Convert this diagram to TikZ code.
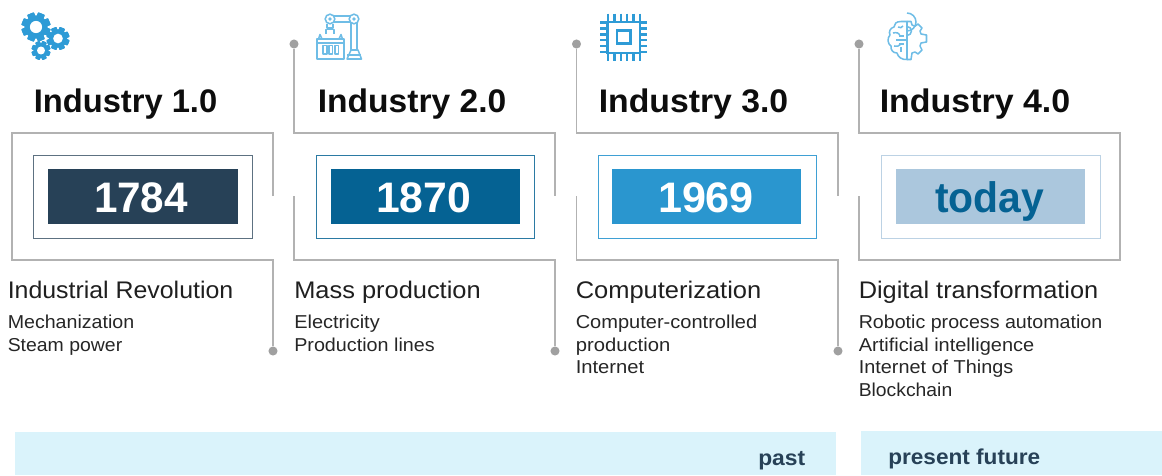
\documentclass[tikz,border=0pt]{standalone}
\usepackage{fontspec}
\usepackage{graphicx}
\setmainfont{Liberation Sans}
\definecolor{cdark}{HTML}{274157}
\definecolor{cblue}{HTML}{056293}
\definecolor{cmid}{HTML}{2A96CF}
\definecolor{clight}{HTML}{ABC7DD}
\definecolor{cicon}{HTML}{2E9BD6}
\definecolor{cicon2}{HTML}{6FBDE6}
\definecolor{cband}{HTML}{DAF3FB}
\definecolor{cline}{HTML}{B2B2B2}
\definecolor{cdot}{HTML}{A0A0A0}
\newcommand{\fitw}[2]{\resizebox{#1\dimexpr0.75pt\relax}{\height}{#2}}
\newcommand{\gearicon}[3]{% x,y,r
  \fill[cicon] (#1,#2) circle ({#3*0.8});
  \foreach \a in {0,45,...,315}{
    \fill[cicon,shift={(#1,#2)},rotate=\a+22.5,rounded corners=0.5pt] ({-#3*0.25},{-#3*1.0}) rectangle ({#3*0.25},{#3*1.0});
  }
  \fill[white] (#1,#2) circle ({#3*0.42});
}
\tikzset{
  x=0.75pt,y=-0.75pt,
  conn/.style={draw=cline,line width=0.8pt},
  dotm/.style={circle,fill=cdot,inner sep=0pt,minimum size=6.8pt},
  frameb/.style={draw,line width=0.7pt,fill=white,inner sep=0pt},
  yearb/.style={inner sep=0pt},
  title/.style={anchor=base west,inner sep=0pt,text=black!95,font=\bfseries\fontsize{24.5pt}{25pt}\selectfont},
  year/.style={anchor=base,inner sep=0pt,font=\bfseries\fontsize{32pt}{32pt}\selectfont},
  head/.style={anchor=base west,inner sep=0pt,text=black!88,font=\fontsize{18pt}{18pt}\selectfont},
  body/.style={anchor=base west,inner sep=0pt,text=black!85,font=\fontsize{14pt}{14pt}\selectfont},
  band/.style={anchor=base west,inner sep=0pt,text=cdark,font=\bfseries\fontsize{16.2pt}{16pt}\selectfont},
  ico/.style={draw=cicon2,line width=1.15pt,line join=round},
  chip/.style={draw=cicon,line width=1.9pt},
}
\begin{document}
\begin{tikzpicture}
\useasboundingbox (0,0) rectangle (1162,475);
% bands
\fill[cband] (15,432) rectangle (836,475);
\fill[cband] (861,431) rectangle (1162,475);
% connector points
\coordinate (a1) at (273,196); \coordinate (a2) at (273,133); \coordinate (a3) at (12,133);
\coordinate (a4) at (12,260); \coordinate (a5) at (273,260);
\node[dotm] (da) at (273,351) {};
\node[dotm] (db1) at (294,44) {};
\coordinate (b2) at (294,133); \coordinate (b3) at (555,133); \coordinate (b4) at (555,196);
\coordinate (b5) at (294,196); \coordinate (b6) at (294,260); \coordinate (b7) at (555,260);
\node[dotm] (db2) at (555,351) {};
\node[dotm] (dc1) at (576.5,44) {};
\coordinate (c2) at (576.5,133); \coordinate (c3) at (838,133); \coordinate (c4) at (838,196);
\coordinate (c5) at (576.5,196); \coordinate (c6) at (576.5,260); \coordinate (c7) at (838,260);
\node[dotm] (dc2) at (838,351) {};
\node[dotm] (dd1) at (859,44) {};
\coordinate (d2) at (859,133); \coordinate (d3) at (1120,133); \coordinate (d4) at (1120,260);
\coordinate (d5) at (859,260); \coordinate (d6) at (859,196);
\draw[conn] (a1) -- (a2) -- (a3) -- (a4) -- (a5) -- (da);
\draw[conn] (db1) -- (b2) -- (b3) -- (b4);
\draw[conn] (b5) -- (b6) -- (b7) -- (db2);
\draw[conn] (dc1) -- (c2) -- (c3) -- (c4);
\draw[conn] (c5) -- (c6) -- (c7) -- (dc2);
\draw[conn] (dd1) -- (d2) -- (d3) -- (d4) -- (d5) -- (d6);
% boxes
\draw[frameb,draw=cdark!75] (33.5,155) rectangle (252,238);
\fill[cdark] (48,169) rectangle (238,224);
\draw[frameb,draw=cblue!85] (316.5,155) rectangle (534,238);
\fill[cblue] (331,169) rectangle (520,224);
\draw[frameb,draw=cmid!90] (598,155) rectangle (816,238);
\fill[cmid] (612,169) rectangle (801,224);
\draw[frameb,draw=clight!80] (881.5,155) rectangle (1100,238);
\fill[clight] (896,169) rectangle (1085,224);
% year labels
\node[year,text=white] (y1) at (141,212) {\fitw{94}{1784}};
\node[year,text=white] (y2) at (423.5,212) {\fitw{95}{1870}};
\node[year,text=white] (y3) at (706,212) {\fitw{96}{1969}};
\node[year,text=cblue] (y4) at (989.5,212) {\fitw{109}{today}};
% titles
\node[title] (t1) at (33.5,112) {\fitw{183.5}{Industry 1.0}};
\node[title] (t2) at (317.5,112) {\fitw{188.5}{Industry 2.0}};
\node[title] (t3) at (598.5,112) {\fitw{189.5}{Industry 3.0}};
\node[title] (t4) at (879.5,112) {\fitw{190.5}{Industry 4.0}};
% headings
\node[head] (h1) at (7.5,298) {\fitw{225.5}{Industrial Revolution}};
\node[head] (h2) at (294,298) {\fitw{186.5}{Mass production}};
\node[head] (h3) at (575.5,298) {\fitw{185.5}{Computerization}};
\node[head] (h4) at (858.5,298) {\fitw{239.5}{Digital transformation}};
% bodies
\node[body] (b11) at (7.5,328.5) {\fitw{126.5}{Mechanization}};
\node[body] (b12) at (7.5,351.5) {\fitw{114.5}{Steam power}};
\node[body] (b21) at (294,328.5) {\fitw{85.5}{Electricity}};
\node[body] (b22) at (294,351.5) {\fitw{140.5}{Production lines}};
\node[body] (b31) at (575.5,328.5) {\fitw{181.5}{Computer-controlled}};
\node[body] (b32) at (575.5,351.5) {\fitw{94.5}{production}};
\node[body] (b33) at (575.5,373.5) {\fitw{68.5}{Internet}};
\node[body] (b41) at (858.5,328.5) {\fitw{243.5}{Robotic process automation}};
\node[body] (b42) at (858.5,351.5) {\fitw{175.5}{Artificial intelligence}};
\node[body] (b43) at (858.5,373.5) {\fitw{154.5}{Internet of Things}};
\node[body] (b44) at (858.5,396.5) {\fitw{93.5}{Blockchain}};
% band labels
\node[band] (past) at (758,465) {\fitw{47}{past}};
\node[band] (pf) at (888,464) {\fitw{152}{present future}};
% icon 1: gears
\gearicon{36}{27}{14.5}
\gearicon{58}{38.5}{11.5}
\gearicon{41}{50.5}{9.5}
% icon 2: factory robot
\draw[ico] (317,59) rectangle (344,39);
\draw[ico] (317,43) -- (344,43);
\draw[ico] (318.5,39) -- (320,34.5) -- (322,39);
\draw[ico] (339,39) -- (341,34.5) -- (342.5,39);
\foreach \cx in {325,330.8,336.6}{\draw[ico] (\cx-1.8,45.5) rectangle (\cx+1.8,54);}
\draw[ico] (330,16) -- (354,16) (334,22) -- (350,22);
\draw[ico] (351,23) -- (351,50) (357,23) -- (357,50);
\draw[ico,fill=white] (330,19) circle (4.8);
\draw[ico,fill=white] (354,19) circle (4.8);
\fill[cicon2] (330,19) circle (1.8); \fill[cicon2] (354,19) circle (1.8);
\draw[ico] (327,24) -- (327,28) -- (333,28) -- (333,24);
\draw[ico] (326,34) -- (326,29.5) -- (334,29.5) -- (334,34);
\draw[ico] (351,50) -- (358,50) -- (361.5,59) -- (347,59) -- cycle;
\draw[ico] (347,55) -- (361,55);
% icon 3: chip
\draw[chip] (607.5,22) rectangle (640,53);
\draw[chip] (617,30.5) rectangle (630.5,43.5);
\foreach \p in {0,1,2,3,4,5}{
  \draw[chip] (\p*6.4+608,13.5) -- (\p*6.4+608,21);
  \draw[chip] (\p*6.4+608,54) -- (\p*6.4+608,60.5);
  \draw[chip] (600,\p*5.9+22.5) -- (607,\p*5.9+22.5);
  \draw[chip] (640.5,\p*5.9+22.5) -- (647,\p*5.9+22.5);
}
% icon 4: brain and gear
\begin{scope}[ico]
  \draw (907,21.5) -- (901,21.5) .. controls (896,21.5) and (894,24) .. (894,27)
    .. controls (890,28) and (888.5,32) .. (890,35)
    .. controls (887,38) and (887.5,44) .. (891,46)
    .. controls (890.5,50) and (893,53) .. (897,53)
    .. controls (898,57) and (902,60) .. (907,59.5) -- cycle;
  \draw (907,21.5) -- (911,21.5) -- (912,25) -- (915,26.2) -- (918,24) -- (922,28) -- (920,31)
    -- (921,34) -- (926.5,35) -- (926.5,42) -- (921,43) -- (920,46) -- (922,50)
    -- (918,54) -- (915,52) -- (912,53) -- (911,59.5) -- (907,59.5);
  \draw (907,31) arc (90:-90:9);
  \draw (907,35.5) arc (90:-90:4.5);
  \draw (893,33) .. controls (897,32) and (899,33) .. (900,36);
  \draw (894,46) .. controls (897,47) and (899,46) .. (901,44);
  \draw (898,27) .. controls (900,28) and (902,28) .. (903,26);
  \draw (896,40) -- (907,40);
  \draw (899,36) -- (904,36) (899,44) -- (904,44);
  \draw (901,52) -- (901,47);
\end{scope}
\end{tikzpicture}
\end{document}
